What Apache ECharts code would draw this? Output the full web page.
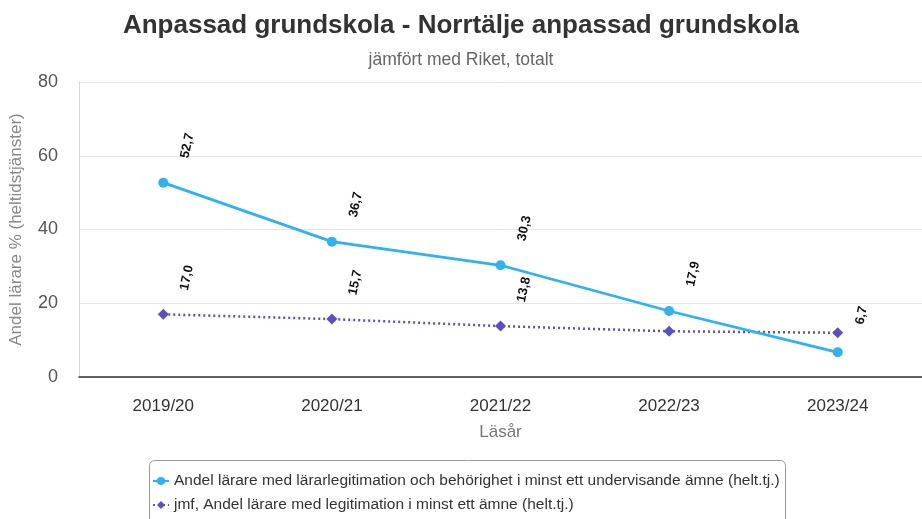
<!DOCTYPE html>
<html>
<head>
<meta charset="utf-8">
<script src="https://cdn.jsdelivr.net/npm/echarts@6/dist/echarts.min.js"></script>
<style>
  html, body { margin: 0; padding: 0; background: #fff; }
  #chart { width: 922px; height: 519px; }
</style>
</head>
<body>
<div id="chart"></div>
<script>
// data
const years = ['2019/20', '2020/21', '2021/22', '2022/23', '2023/24']
const legitBehorig = [52.7, 36.7, 30.3, 17.9, 6.7]
const riketLegit = [17.0, 15.7, 13.8, 12.4, 12.0]
const riketLabelShown = [true, true, true, false, false]
const yTicks = [0, 20, 40, 60, 80]

const name1 = 'Andel lärare med lärarlegitimation och behörighet i minst ett undervisande ämne (helt.tj.)'
const name2 = 'jmf, Andel lärare med legitimation i minst ett ämne (helt.tj.)'

const fmt = (p) => p.value.toFixed(1).replace('.', ',')

function valueLabel (dx, dy) {
  return {
    show: true,
    position: [dx, dy],
    rotate: 78,
    align: 'center',
    verticalAlign: 'middle',
    fontFamily: 'Liberation Sans, Arial, sans-serif',
    fontSize: 13,
    fontWeight: 'bold',
    color: '#111',
    formatter: fmt
  }
}

const chart = echarts.init(document.getElementById('chart'))
const option = {
  animation: false,
  textStyle: { fontFamily: 'Liberation Sans, Arial, sans-serif' },
  title: [
    {
      text: 'Anpassad grundskola - Norrtälje anpassad grundskola',
      left: 'center',
      top: 8,
      textStyle: { fontSize: 26, fontWeight: 'bold', color: '#333' }
    },
    {
      text: 'jämfört med Riket, totalt',
      left: 'center',
      top: 46,
      textStyle: { fontSize: 17.5, fontWeight: 'normal', color: '#666' }
    }
  ],
  // legend frame, drawn separately so it can run past the bottom edge
  graphic: [
    {
      type: 'rect',
      left: 149,
      top: 460,
      shape: { width: 636, height: 80, r: 5 },
      style: { fill: '#fff', stroke: '#999', lineWidth: 1 },
      z: 0
    }
  ],
  legend: {
    orient: 'vertical',
    left: 150,
    top: 465,
    padding: [8, 8, 2, 2],
    itemGap: 8,
    itemWidth: 16,
    itemHeight: 10,
    textStyle: { fontSize: 15.5, color: '#333' },
    data: [name1, name2]
  },
  grid: {
    left: 78,
    top: 82,
    width: 850,
    height: 295
  },
  xAxis: {
    type: 'category',
    data: years,
    boundaryGap: true,
    name: 'Läsår',
    nameLocation: 'middle',
    nameGap: 47,
    nameTextStyle: { fontSize: 17, color: '#777' },
    axisLine: { lineStyle: { color: '#333', width: 1.5 } },
    axisTick: { show: false },
    axisLabel: { fontSize: 17, color: '#333', margin: 21 }
  },
  yAxis: {
    type: 'value',
    min: yTicks[0],
    max: yTicks[yTicks.length - 1],
    interval: 20,
    name: 'Andel lärare % (heltidstjänster)',
    nameLocation: 'middle',
    nameGap: 54,
    nameTextStyle: { fontSize: 17, color: '#888' },
    axisLine: { show: true, lineStyle: { color: '#d6d6d6' } },
    axisLabel: { fontSize: 18, color: '#555', margin: 21 },
    splitLine: { lineStyle: { color: '#e6e6e6' } }
  },
  series: [
    {
      name: name1,
      type: 'line',
      data: legitBehorig,
      symbol: 'circle',
      symbolSize: 10,
      z: 3,
      itemStyle: { color: '#2eb2f2' },
      lineStyle: { color: '#2eb2f2', width: 2.8 },
      label: valueLabel(29, -32)
    },
    {
      name: name2,
      type: 'line',
      data: riketLegit.map((v, i) => ({ value: v, label: { show: riketLabelShown[i] } })),
      symbol: 'diamond',
      symbolSize: 11,
      z: 2,
      itemStyle: { color: '#5a4fc8' },
      lineStyle: { color: '#5a4fc8', width: 2.5, type: [2, 3] },
      label: valueLabel(29, -31)
    }
  ]
}
chart.setOption(option)
</script>
</body>
</html>
